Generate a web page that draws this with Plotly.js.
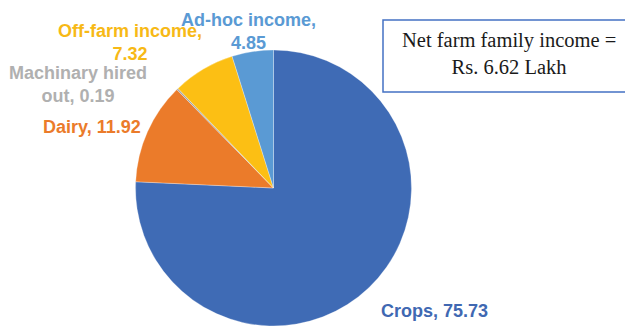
<!DOCTYPE html>
<html>
<head>
<meta charset="utf-8">
<script src="https://cdn.plot.ly/plotly-3.0.1.min.js"></script>
<style>html,body{margin:0;padding:0;background:#fff;}#chart{width:625px;height:331px;}</style>
</head>
<body>
<div id="chart"></div>
<script>
// Data
const categories = ["Crops", "Dairy", "Machinary hired out", "Off-farm income", "Ad-hoc income"];
const labelLines = ["Crops, ", "Dairy, ", "Machinary hired<br>out, ", "Off-farm income,<br>", "Ad-hoc income,<br>"];
const shares = [75.73, 11.92, 0.19, 7.32, 4.85];
const boxText = "Net farm family income =<br>Rs. 6.62 Lakh";

// Styles
const sliceColors = ["#3F6BB5", "#EB7B2A", "#A5A5A5", "#FCBF14", "#5A9AD4"];
const textColors = ["#4068B2", "#EB7B2A", "#B0B0B0", "#F7B916", "#5A9AD4"];
const W = 625, H = 331;
// label centers in pixels (layout only)
const labelPos = [[434, 311], [92, 127], [78, 85], [130, 42], [248, 32]];

const annotations = categories.map((c, i) => ({
  text: labelLines[i] + shares[i].toFixed(2),
  xref: 'paper', yref: 'paper',
  x: labelPos[i][0] / W, y: 1 - labelPos[i][1] / H,
  xanchor: 'center', yanchor: 'middle', align: 'center',
  showarrow: false,
  font: {family: '"Liberation Sans", Arial, sans-serif', size: 18, color: textColors[i], weight: 'bold'}
}));
annotations.push({
  text: boxText,
  xref: 'paper', yref: 'paper',
  x: 508.5 / W, y: 1 - 53 / H,
  xanchor: 'center', yanchor: 'middle', align: 'center',
  showarrow: false,
  font: {family: '"Liberation Serif", "Times New Roman", serif', size: 20.5, color: '#1a1a1a'}
});

const cx = 273.5, cy = 188, r = 138;
const trace = {
  type: 'pie',
  labels: categories,
  values: shares,
  sort: false,
  direction: 'clockwise',
  rotation: 0,
  textinfo: 'none',
  hoverinfo: 'label+value',
  marker: {colors: sliceColors, line: {color: '#ffffff', width: 0.3}},
  domain: {x: [(cx - r) / W, (cx + r) / W], y: [1 - (cy + r) / H, 1 - (cy - r) / H]},
  showlegend: false
};

const layout = {
  width: W, height: H,
  margin: {l: 0, r: 0, t: 0, b: 0},
  paper_bgcolor: '#ffffff',
  showlegend: false,
  annotations: annotations,
  shapes: [{
    type: 'rect', xref: 'paper', yref: 'paper',
    x0: 383 / W, x1: 627 / W, y0: 1 - 92 / H, y1: 1 - 20 / H,
    line: {color: '#4472C4', width: 1.5}, fillcolor: 'rgba(0,0,0,0)'
  }]
};

Plotly.newPlot('chart', [trace], layout, {displayModeBar: false, staticPlot: true});
</script>
</body>
</html>
